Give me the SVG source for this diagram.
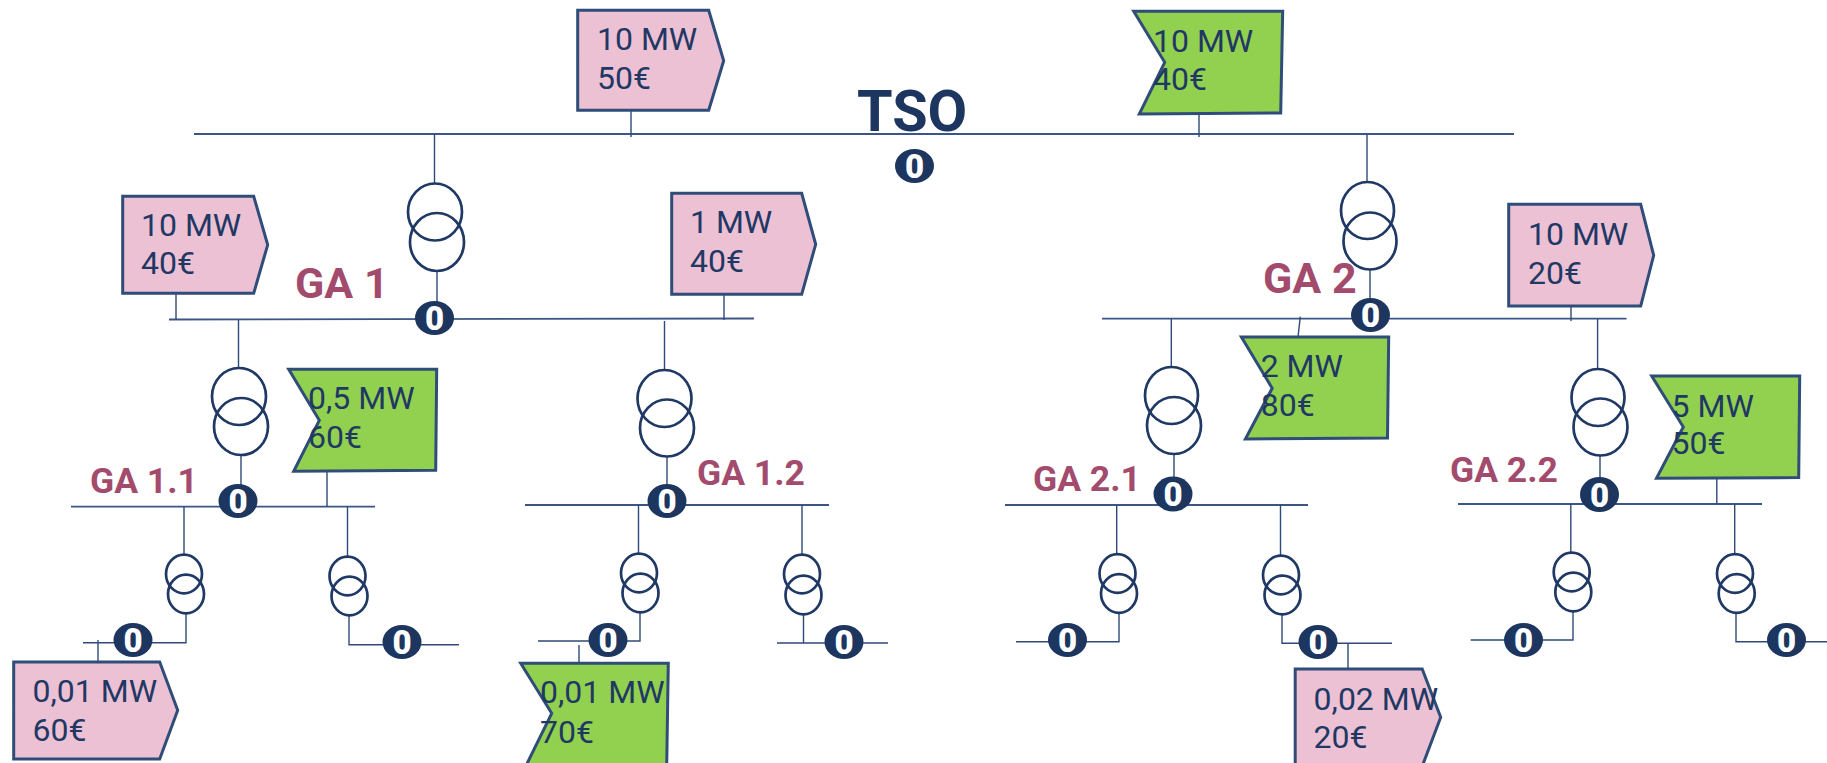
<svg xmlns="http://www.w3.org/2000/svg" width="1827" height="763" viewBox="0 0 1827 763">
<style>
text{font-family:Roboto,"Liberation Sans",sans-serif}
.bus{stroke:#3b5586;stroke-width:1.8;fill:none}
.con{stroke:#2f4a78;stroke-width:1.4;fill:none}
.bid{stroke:#2f4d78;stroke-width:3;stroke-linejoin:miter;transform:translate(.7px,.3px)}
.p{fill:#edc1d4}
.g{fill:#92d14f}
.t{font-size:32px;fill:#1f3864;transform:translateX(-1px)}
ellipse.x{fill:none;stroke:#1f3864;stroke-width:2.7}
ellipse.b{fill:#1c3660}
.z{font-size:33px;font-weight:900;fill:#fff;text-anchor:middle}
.ga{font-weight:700;fill:#a34b6d}
</style>
<rect width="1827" height="763" fill="#fff"/>
<g id="connectors">
<path class="bus" d="M194 134H1514M169 319.5L754 318.5M71 506.7H375M525 505H829M1102 318.7H1626.5M1005 505H1308M1458 504H1762"/>
<path class="con" d="M631 110V137M1199 113V137M434.5 134V183M437 271V302M1367 134V182M1370 269V299M176 293V320M724 294V320M1571 306V321M1300.3 316.7L1298 337"/>
<path class="con" d="M238.5 320V368M241 456V486M664.5 321V370M667 457V485M1171.3 319V367M1174 454V478M1597.6 319V369M1600 456V482"/>
<path class="con" d="M327 471V507M1716.8 478V504M184 506V555M186 614V642.7H83M98 640V662M347.5 507V557M349 615V644.7H459M638.5 505V554M640 612V641H538M579 645V663M802 505V555M803.5 614V643H777M803.5 643H888"/>
<path class="con" d="M1116.7 505V554M1119 613V641.7H1016M1280.5 505V556M1282 614V643.3H1392M1348 643V669M1570.8 504V553M1573 611V640H1470.7M1734.7 504V554.3M1736 613V641.7H1827"/>
</g>
<g id="tso-label"><text x="857" y="130.7" font-size="57.5" font-weight="700" fill="#1c3660">TSO</text></g>
<g id="badge-tso"><ellipse class="b" cx="914.5" cy="166" rx="19.5" ry="17"/><text class="z" x="914.5" y="178">0</text></g>
<g id="bid-50"><path class="bid p" d="M577 10H708L723 60.5L708 110H577Z"/><text class="t" x="598" y="50">10 MW</text><text class="t" x="598" y="89">50€</text></g>
<g id="bid-tso-40"><path class="bid g" d="M1133 11H1282L1280 112.7L1138.6 113.7L1164 62Z"/><text class="t" x="1154" y="51.7">10 MW</text><text class="t" x="1154" y="90">40€</text></g>
<g id="bid-ga1-40"><path class="bid p" d="M122 196H253L267 244.5L253 293H122Z"/><text class="t" x="142" y="235.7">10 MW</text><text class="t" x="142" y="274">40€</text></g>
<g id="bid-ga1-1mw"><path class="bid p" d="M671 193H801L815 244L801 294H671Z"/><text class="t" x="691" y="233">1 MW</text><text class="t" x="691" y="272">40€</text></g>
<g id="bid-ga2-20"><path class="bid p" d="M1508 204H1640L1653 255L1640 305.7H1508Z"/><text class="t" x="1529" y="245">10 MW</text><text class="t" x="1529" y="284">20€</text></g>
<g id="bid-ga2-80"><path class="bid g" d="M1240.7 336.7H1388L1386.8 437.7L1244.7 438.7L1271.5 388Z"/><text class="t" x="1261.7" y="376.7">2 MW</text><text class="t" x="1261.7" y="415.7">80€</text></g>
<g id="bid-ga11-60"><path class="bid g" d="M288 369H436L435 470L293 471L318.6 420Z"/><text class="t" x="309" y="408.7">0,5 MW</text><text class="t" x="309" y="447.7">60€</text></g>
<g id="bid-ga22-50"><path class="bid g" d="M1651 375.7H1799L1798 477.3L1655.8 478L1682.6 426.7Z"/><text class="t" x="1672.6" y="416.7">5 MW</text><text class="t" x="1672.6" y="454.3">50€</text></g>
<g id="bid-l1"><path class="bid p" d="M13 661.7H159L177 710L159 758.7H13Z"/><text class="t" x="33.5" y="701.7">0,01 MW</text><text class="t" x="33.5" y="740.7">60€</text></g>
<g id="bid-l2"><path class="bid g" d="M520 663H667.6L666 766H525L551 713Z"/><text class="t" x="541" y="703">0,01 MW</text><text class="t" x="541" y="742.7">70€</text></g>
<g id="bid-l3"><path class="bid p" d="M1294.5 668.7H1421.5L1440 717L1421.5 766H1294.5Z"/><text class="t" x="1314.6" y="710">0,02 MW</text><text class="t" x="1314.6" y="748">20€</text></g>
<g id="tr-ga1"><ellipse class="x" cx="435" cy="212" rx="27" ry="28.5"/><ellipse class="x" cx="437" cy="242" rx="27" ry="29"/></g>
<g id="tr-ga2"><ellipse class="x" cx="1367.5" cy="210.5" rx="26.5" ry="28.5"/><ellipse class="x" cx="1370" cy="241" rx="26.5" ry="28.5"/></g>
<g id="tr-ga11"><ellipse class="x" cx="239" cy="396.5" rx="27" ry="28.5"/><ellipse class="x" cx="241" cy="426.5" rx="27" ry="28.5"/></g>
<g id="tr-ga12"><ellipse class="x" cx="664.5" cy="398.5" rx="27" ry="28.5"/><ellipse class="x" cx="667" cy="428" rx="27" ry="28.5"/></g>
<g id="tr-ga21"><ellipse class="x" cx="1171.5" cy="395.5" rx="26.5" ry="28.5"/><ellipse class="x" cx="1174" cy="425.5" rx="27" ry="28.5"/></g>
<g id="tr-ga22"><ellipse class="x" cx="1598" cy="397.5" rx="26.5" ry="28.5"/><ellipse class="x" cx="1600.5" cy="427" rx="27" ry="28.5"/></g>
<g id="tr-111"><ellipse class="x" cx="184" cy="574" rx="18" ry="19.3"/><ellipse class="x" cx="186" cy="594" rx="18" ry="19.3"/></g>
<g id="tr-112"><ellipse class="x" cx="347.5" cy="576" rx="18" ry="19.3"/><ellipse class="x" cx="349.5" cy="596" rx="18" ry="19.3"/></g>
<g id="tr-121"><ellipse class="x" cx="639" cy="573" rx="18" ry="19.3"/><ellipse class="x" cx="640.5" cy="593" rx="18" ry="19.3"/></g>
<g id="tr-122"><ellipse class="x" cx="802" cy="574" rx="18" ry="19.3"/><ellipse class="x" cx="803.5" cy="595" rx="18" ry="19.3"/></g>
<g id="tr-211"><ellipse class="x" cx="1117.5" cy="573.5" rx="18" ry="19.3"/><ellipse class="x" cx="1119" cy="593.5" rx="18" ry="19.3"/></g>
<g id="tr-212"><ellipse class="x" cx="1281" cy="575" rx="18" ry="19.3"/><ellipse class="x" cx="1282.5" cy="595" rx="18" ry="19.3"/></g>
<g id="tr-221"><ellipse class="x" cx="1571.7" cy="572" rx="18" ry="19.3"/><ellipse class="x" cx="1573.3" cy="592" rx="18" ry="19.3"/></g>
<g id="tr-222"><ellipse class="x" cx="1735" cy="573.5" rx="18" ry="19.3"/><ellipse class="x" cx="1736.7" cy="593.5" rx="18" ry="19.3"/></g>
<g id="label-ga1"><text class="ga" x="295" y="298" font-size="43">GA 1</text></g>
<g id="label-ga2"><text class="ga" x="1263" y="292.7" font-size="43">GA 2</text></g>
<g id="label-ga11"><text class="ga" x="90" y="492.7" font-size="35.5">GA 1.1</text></g>
<g id="label-ga12"><text class="ga" x="697" y="484.7" font-size="35.5">GA 1.2</text></g>
<g id="label-ga21"><text class="ga" x="1033" y="490.7" font-size="35.5">GA 2.1</text></g>
<g id="label-ga22"><text class="ga" x="1450" y="482.3" font-size="35.5">GA 2.2</text></g>
<g id="badge-ga1"><ellipse class="b" cx="434.5" cy="318" rx="19.5" ry="17"/><text class="z" x="434.5" y="330">0</text></g>
<g id="badge-ga2"><ellipse class="b" cx="1370.5" cy="315" rx="19.5" ry="17"/><text class="z" x="1370.5" y="327">0</text></g>
<g id="badge-ga11"><ellipse class="b" cx="238" cy="501" rx="19.5" ry="17"/><text class="z" x="238" y="513">0</text></g>
<g id="badge-ga12"><ellipse class="b" cx="667" cy="501" rx="19.5" ry="17"/><text class="z" x="667" y="513">0</text></g>
<g id="badge-ga21"><ellipse class="b" cx="1173" cy="494" rx="19.5" ry="17.5"/><text class="z" x="1173" y="506">0</text></g>
<g id="badge-ga22"><ellipse class="b" cx="1599.5" cy="494.5" rx="19.5" ry="17.5"/><text class="z" x="1599.5" y="506.5">0</text></g>
<g id="badge-111"><ellipse class="b" cx="133" cy="640" rx="19.5" ry="17"/><text class="z" x="133" y="652">0</text></g>
<g id="badge-112"><ellipse class="b" cx="402" cy="642" rx="19.5" ry="17"/><text class="z" x="402" y="654">0</text></g>
<g id="badge-121"><ellipse class="b" cx="608" cy="640" rx="19.5" ry="17"/><text class="z" x="608" y="652">0</text></g>
<g id="badge-122"><ellipse class="b" cx="844" cy="642" rx="19.5" ry="17"/><text class="z" x="844" y="654">0</text></g>
<g id="badge-211"><ellipse class="b" cx="1067.5" cy="640" rx="19.5" ry="17"/><text class="z" x="1067.5" y="652">0</text></g>
<g id="badge-212"><ellipse class="b" cx="1318" cy="642" rx="19.5" ry="17"/><text class="z" x="1318" y="654">0</text></g>
<g id="badge-221"><ellipse class="b" cx="1523.5" cy="640" rx="19.5" ry="17"/><text class="z" x="1523.5" y="652">0</text></g>
<g id="badge-222"><ellipse class="b" cx="1786.5" cy="640" rx="19.5" ry="17"/><text class="z" x="1786.5" y="652">0</text></g>
</svg>
